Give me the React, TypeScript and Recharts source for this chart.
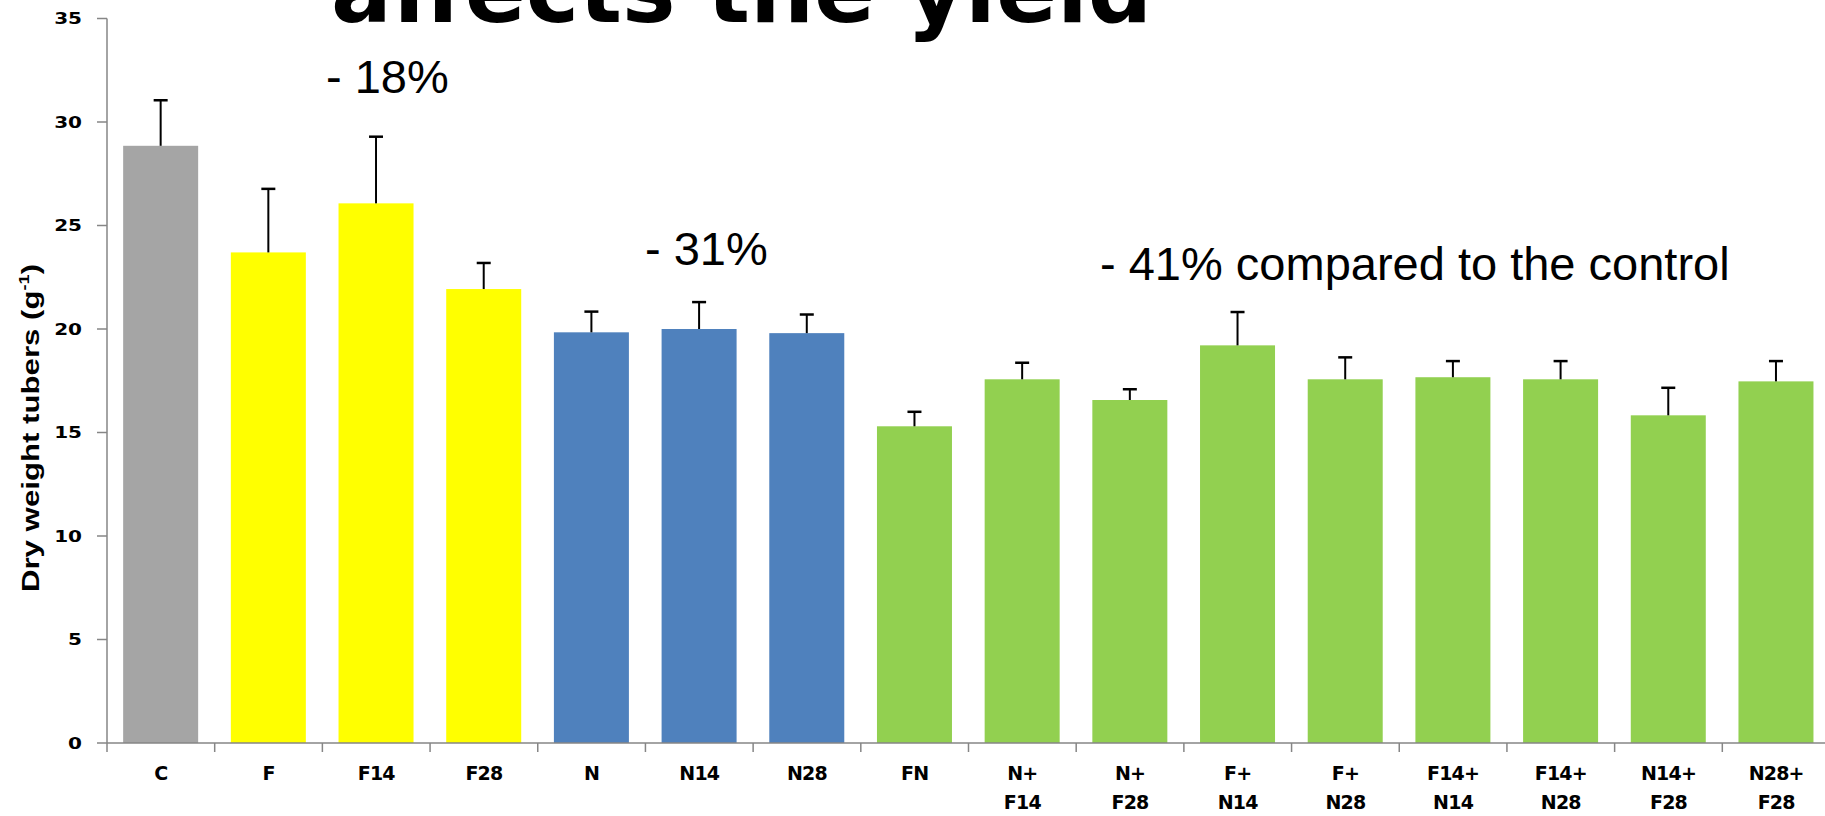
import React from 'react';
import { BarChart, Bar, XAxis, YAxis } from 'recharts';

const categories = ['C', 'F', 'F14', 'F28', 'N', 'N14', 'N28', 'FN', 'N+|F14', 'N+|F28', 'F+|N14', 'F+|N28', 'F14+|N14', 'F14+|N28', 'N14+|F28', 'N28+|F28'];
const groups = ['control', 'F', 'F', 'F', 'N', 'N', 'N', 'FN', 'FN', 'FN', 'FN', 'FN', 'FN', 'FN', 'FN', 'FN'];
const dryWeight = [28.85, 23.7, 26.07, 21.93, 19.84, 20.0, 19.8, 15.3, 17.57, 16.57, 19.21, 17.57, 17.67, 17.57, 15.83, 17.47];
const errorUp = [2.2, 3.07, 3.22, 1.26, 1.0, 1.3, 0.9, 0.7, 0.8, 0.52, 1.61, 1.06, 0.78, 0.88, 1.33, 0.98];
const yTicks = [0, 5, 10, 15, 20, 25, 30, 35];

const groupColors: Record<string, string> = {
  control: '#A5A5A5',
  F: '#FFFF00',
  N: '#4F81BD',
  FN: '#92D050',
};

const data = categories.map((c, i) => ({ label: c, value: dryWeight[i], err: errorUp[i], group: groups[i] }));

const CHART_W = 1840;
const CHART_H = 816;
const LEFT = 107;
const RIGHT_MARGIN = 10;
const PLOT_W = CHART_W - LEFT - RIGHT_MARGIN;
const BAND = PLOT_W / categories.length;
const AXIS_COLOR = '#868686';

const BarWithError = (props: any) => {
  const { x, y, width, height, payload } = props;
  if (!payload || height <= 0) return null;
  const ppu = height / payload.value;
  const ey = y - payload.err * ppu;
  const cx = x + width / 2;
  return (
    <g>
      <rect x={x} y={y} width={width} height={height} fill={groupColors[payload.group]} />
      <line x1={cx} x2={cx} y1={y} y2={ey} stroke="#000" strokeWidth={2} />
      <line x1={cx - 7} x2={cx + 7} y1={ey} y2={ey} stroke="#000" strokeWidth={2.5} />
    </g>
  );
};

const XTick = (props: any) => {
  const { x, y, payload } = props;
  const lines = String(payload.value).split('|');
  const bx = x - BAND / 2;
  return (
    <g>
      <line x1={bx} x2={bx} y1={y} y2={y + 9} stroke={AXIS_COLOR} strokeWidth={1.5} />
      {lines.map((l, i) => (
        <text
          key={i}
          x={x}
          y={y + 37 + i * 29}
          textAnchor="middle"
          fontFamily="DejaVu Sans"
          fontWeight="bold"
          fontSize={19}
          letterSpacing={-0.8}
          fill="#000"
        >
          {l}
        </text>
      ))}
    </g>
  );
};

const YTick = (props: any) => {
  const { x, y, payload } = props;
  return (
    <g transform={`translate(${x},${y}) scale(1.25,1)`}>
      <text x={0} y={0} dy="0.36em" textAnchor="end" fontFamily="DejaVu Sans" fontWeight="bold" fontSize={16} fill="#000">
        {payload.value}
      </text>
    </g>
  );
};

export default function App() {
  return (
    <div style={{ position: 'absolute', left: 0, top: 0, width: 1825, height: 816, overflow: 'hidden', background: '#fff' }}>
      <BarChart
        width={CHART_W}
        height={CHART_H}
        data={data}
        margin={{ top: 18.5, right: RIGHT_MARGIN, bottom: 0, left: 0 }}
        barCategoryGap="15%"
      >
        <XAxis
          dataKey="label"
          interval={0}
          height={73}
          tickLine={false}
          tickSize={0}
          tickMargin={0}
          axisLine={{ stroke: AXIS_COLOR, strokeWidth: 1.5 }}
          tick={<XTick />}
        />
        <YAxis
          width={LEFT}
          domain={[0, 35]}
          ticks={yTicks}
          interval={0}
          tickSize={10}
          tickMargin={15}
          axisLine={{ stroke: AXIS_COLOR, strokeWidth: 1.5 }}
          tickLine={{ stroke: AXIS_COLOR, strokeWidth: 1.5 }}
          tick={<YTick />}
        />
        <Bar dataKey="value" isAnimationActive={false} shape={<BarWithError />} />
      </BarChart>
      <svg width={1825} height={816} style={{ position: 'absolute', left: 0, top: 0, pointerEvents: 'none' }}>
        <text x={331} y={22} fontFamily="DejaVu Sans" fontWeight="bold" fontSize={90} fill="#000">
          affects the yield
        </text>
        <text x={326} y={93} fontFamily="Liberation Sans, Arial" fontSize={47} fill="#000">
          - 18%
        </text>
        <text x={645} y={265} fontFamily="Liberation Sans, Arial" fontSize={47} fill="#000">
          - 31%
        </text>
        <text x={1100} y={280} fontFamily="Liberation Sans, Arial" fontSize={47} fill="#000">
          - 41% compared to the control
        </text>
        <g transform="translate(39,428) rotate(-90) scale(1.3,1)">
          <text
            x={0}
            y={0}
            textAnchor="middle"
            fontFamily="Liberation Sans, Arial"
            fontWeight="bold"
            fontSize={24}
            fill="#000"
          >
            Dry weight tubers (g
            <tspan fontSize={14} dy={-10}>-1</tspan>
            <tspan dy={10}>)</tspan>
          </text>
        </g>
      </svg>
    </div>
  );
}
